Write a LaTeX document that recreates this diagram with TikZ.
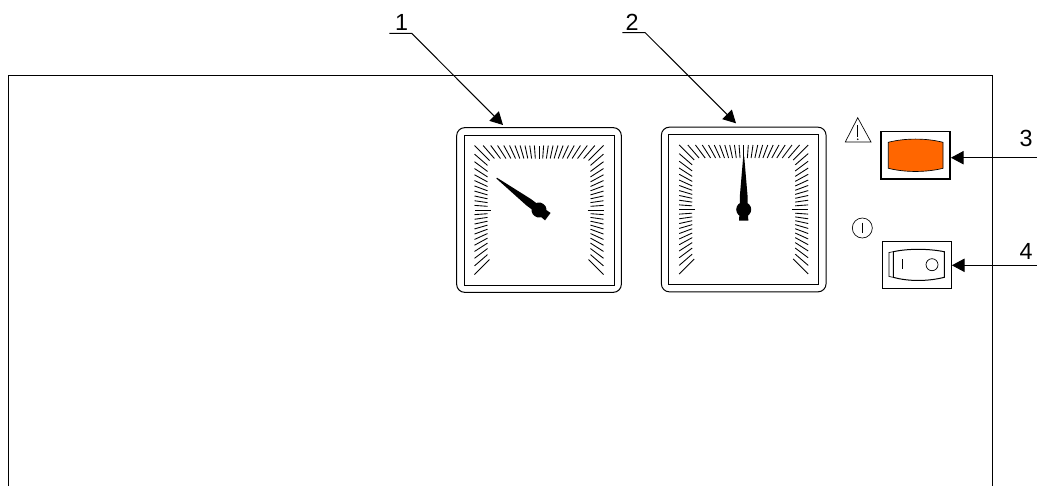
\documentclass[tikz,border=0pt]{standalone}
\usepackage{fontspec}
\setmainfont{Liberation Sans}
\usetikzlibrary{arrows.meta,calc}
\definecolor{rockerorange}{HTML}{FF6600}
\newcommand{\dial}[3]{%
  \node[outerbox] (#1) at #2 {};
  \node[innerbox] (#1inner) at #2 {};
  \foreach \i in {0,...,66} {
    \pgfmathsetmacro{\a}{135+90*\i/22}
    \pgfmathsetmacro{\q}{max(abs(cos(\a)),abs(sin(\a)))}
    \pgfmathsetmacro{\r}{ifthenelse(or(\i==11,\i==55),48.5,ifthenelse(mod(\i,22)==0,49.5,51.5))/\q}
    \pgfmathsetmacro{\s}{64.5/\q}
    \draw[tick] ($#2+(\a:\r)$) -- ($#2+(\a:\s)$);
  }
  \fill[shift={#2},rotate=#3]
    (-.5,-53) -- (.5,-53) -- (3.9,-13) -- (3.9,-6) -- (4.2,0) -- (4.6,11) -- (-4.6,11) -- (-4.2,0) -- (-3.9,-6) -- (-3.9,-13) -- cycle
    (0,0) circle (7.5);
}
\begin{document}
\begin{tikzpicture}%
[x=.75pt,y=-.75pt,line width=.75pt,%
outerbox/.style={draw, inner sep=0pt, minimum size=123.5pt, rounded corners=6pt},%
innerbox/.style={draw, inner sep=0pt, minimum size=112.5pt},%
switchbox/.style={draw, inner sep=0pt, minimum width=52pt, minimum height=35.5pt},%
tick/.style={line width=.65pt},%
num/.style={inner sep=0pt, font=\fontsize{17.5}{17.5}\selectfont},%
pointer/.style={-{Triangle[length=9.5pt,width=10pt]}}]
\useasboundingbox (0,0) rectangle (1037,486);
% housing
\draw (8.5,486) -- (8.5,75) -- (992,75) -- (992,486);
% gauges
\dial{gaugea}{(539,210)}{53}
\dial{gaugeb}{(743.7,209.5)}{0}
% switches
\node[switchbox,line width=1.1pt] (lamp) at (915.5,155.3) {};
\node[switchbox] (rocker) at (916.7,264.7) {};
\draw[fill=rockerorange,line width=.5pt] (888.3,142.3) .. controls (905,138) and (926,138) .. (943,142.3)
  -- (943,168.3) .. controls (926,172.5) and (905,172.5) .. (888.3,168.3) -- cycle;
\draw (893.3,251.7) .. controls (908,248.5) and (928,248.5) .. (944.3,251.7)
  -- (944.3,277.3) .. controls (928,281.5) and (908,281.5) .. (893.3,277.3) -- cycle;
\draw[line width=.5pt] (893.3,251.7) -- (889,252.5) -- (889,276.5) -- (893.3,277.3);
\draw[line width=.5pt] (902,259.3) -- (902,269.3);
\node[draw,circle,inner sep=0pt,minimum size=9pt,line width=.55pt] (rockero) at (932,264.7) {};
% symbols
\draw[line width=.5pt] (857.7,117.7) -- (871,142) -- (845.3,142) -- cycle;
\draw[line width=.6pt] (857.7,125) -- (857.7,136.5);
\fill (857.7,139.2) circle (.9);
\node[draw,circle,inner sep=0pt,minimum size=15pt,line width=.5pt] (mains) at (862.3,228) {};
\draw[line width=.5pt] (862.3,222.7) -- (862.3,233.3);
% callouts
\node[num] (labela) at (401.5,22.5) {1};
\node[num] (labelb) at (632,22) {2};
\node[num] (labelc) at (1026,138) {3};
\node[num] (labeld) at (1026,251) {4};
\coordinate (shelfa) at (389.3,33.3);
\coordinate (kneea) at (411.7,33.3);
\coordinate (tipa) at (503,125);
\coordinate (shelfb) at (622.3,32.5);
\coordinate (kneeb) at (645,32.5);
\coordinate (tipb) at (736,123.3);
\coordinate (endc) at (1037,157.7);
\coordinate (endd) at (1037,265.3);
\draw[pointer] (shelfa) -- (kneea) -- (tipa);
\draw[pointer] (shelfb) -- (kneeb) -- (tipb);
\draw[pointer] (endc) -- (endc -| lamp.east);
\draw[pointer] (endd) -- (endd -| rocker.east);
\end{tikzpicture}
\end{document}
